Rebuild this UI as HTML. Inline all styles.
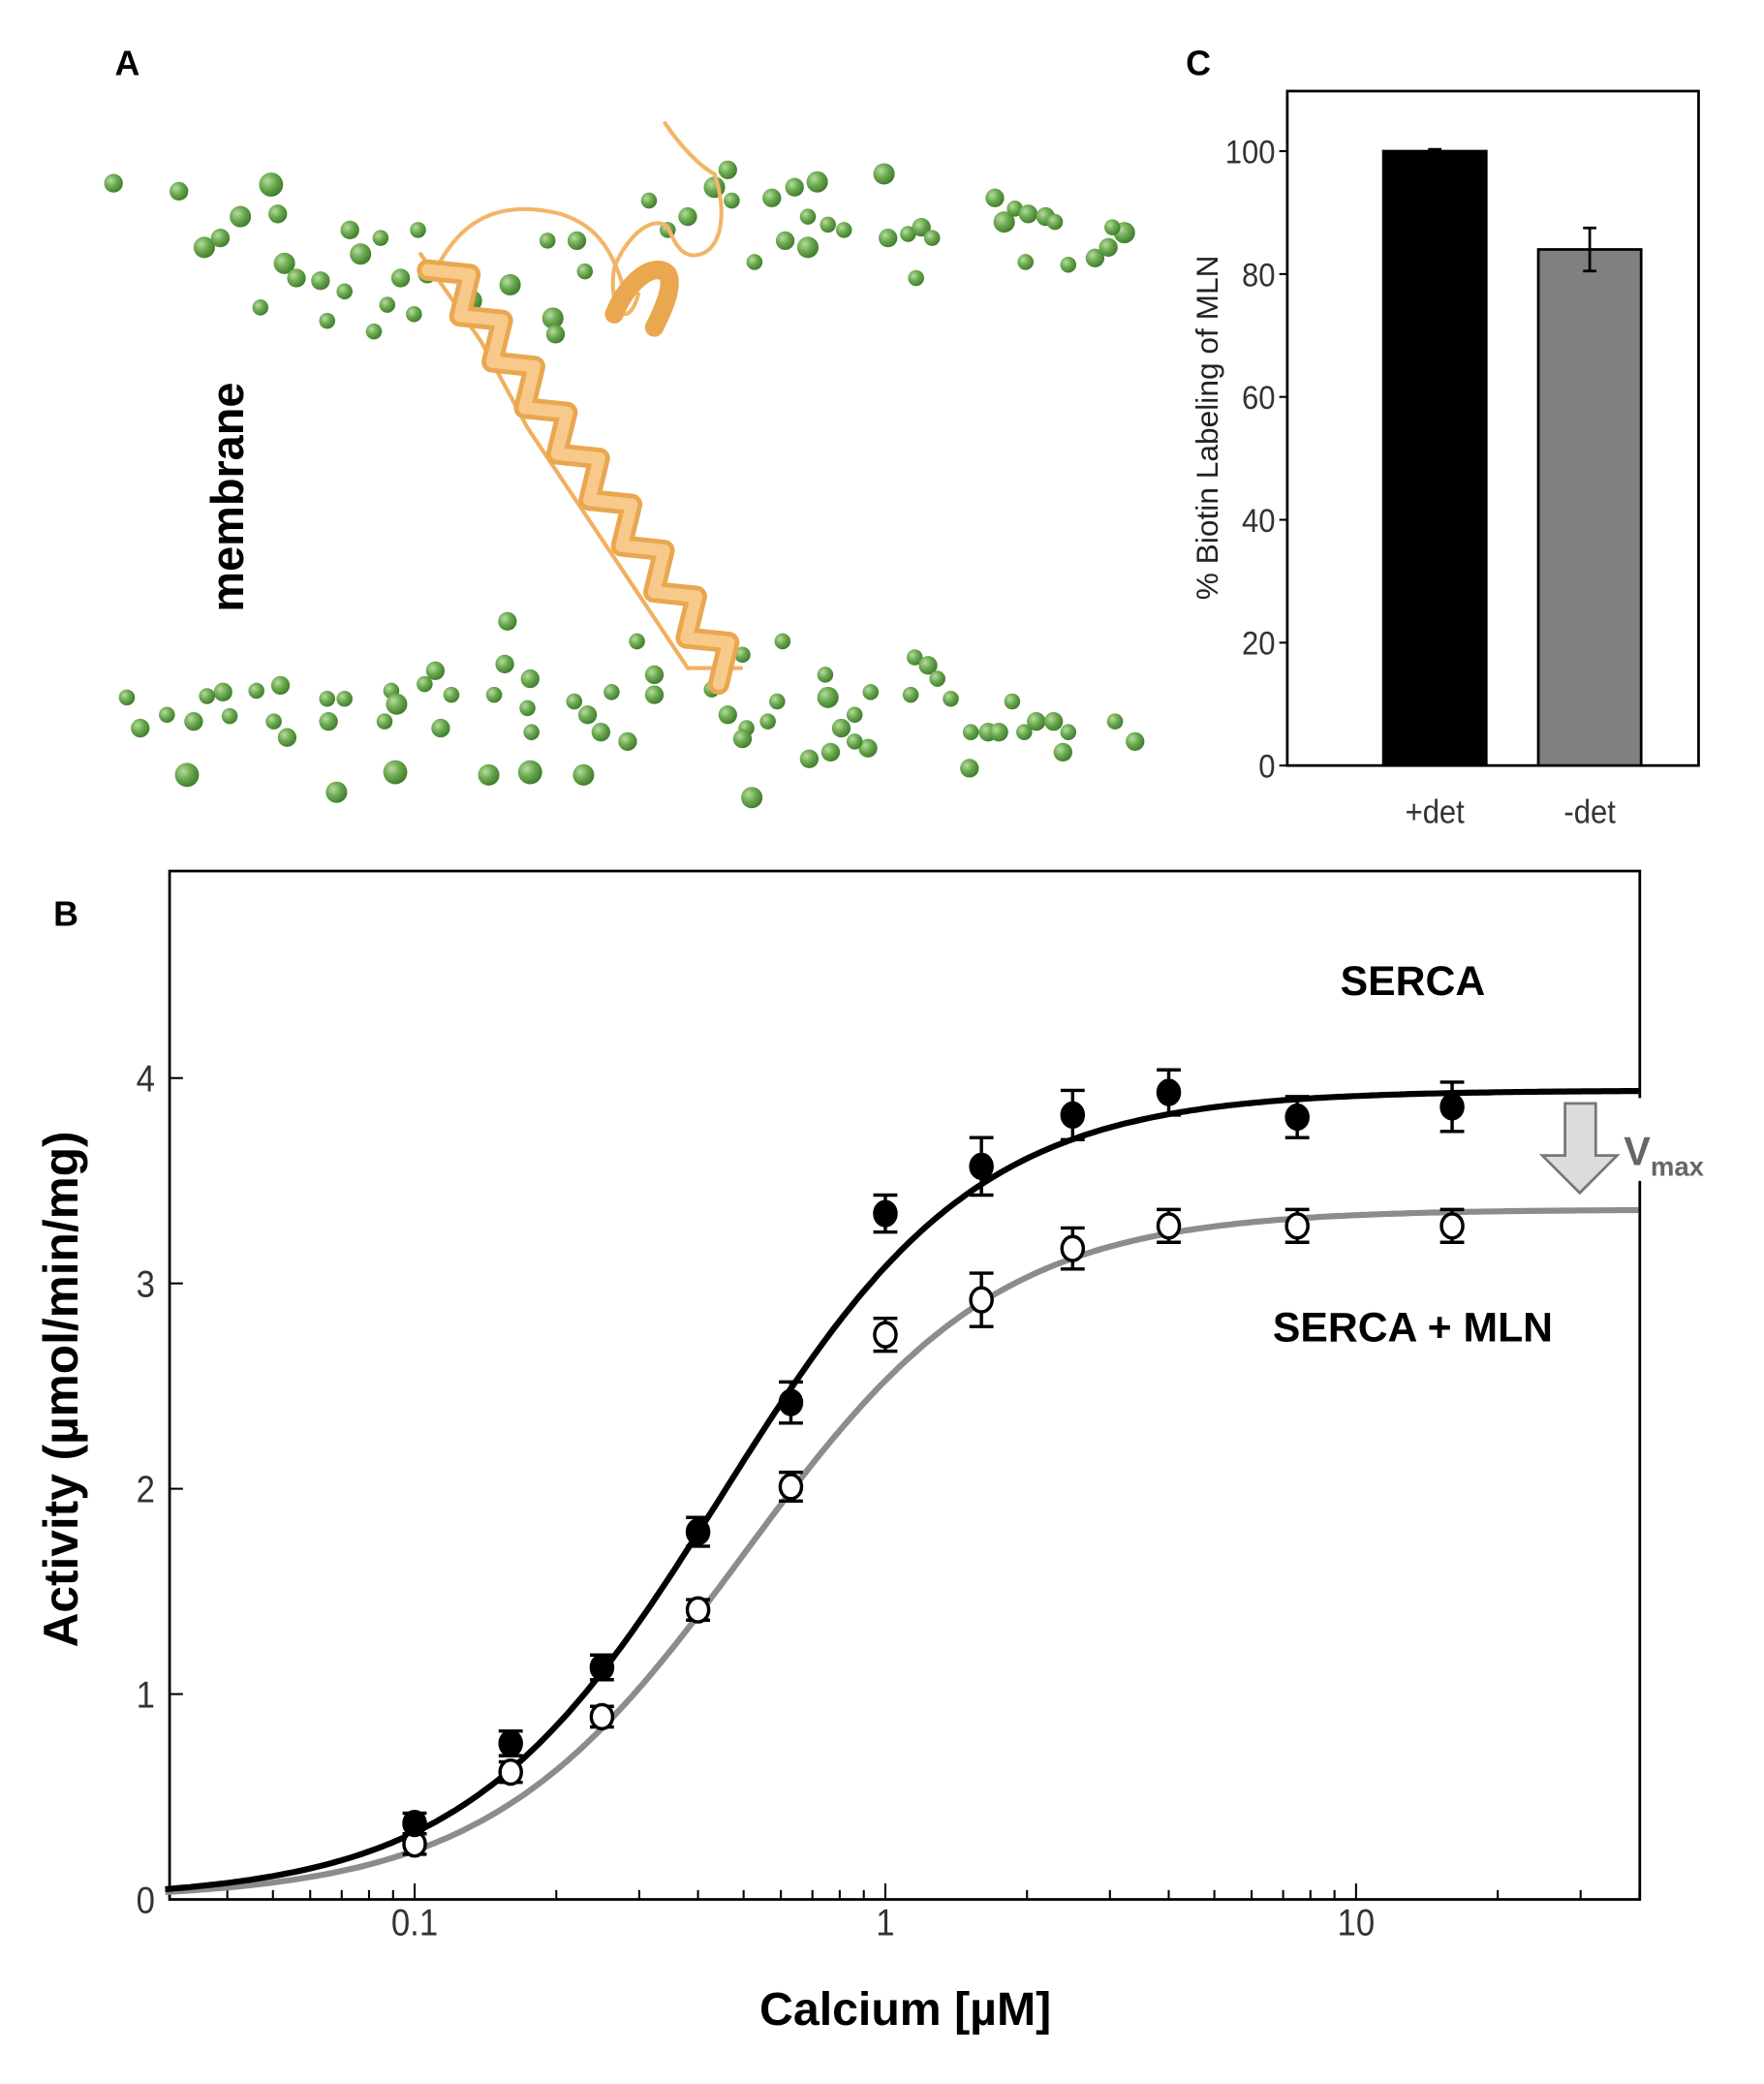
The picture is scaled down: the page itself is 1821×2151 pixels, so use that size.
<!DOCTYPE html>
<html><head><meta charset="utf-8">
<style>
html,body{margin:0;padding:0;background:#fff;}
svg{display:block;}
text{font-family:"Liberation Sans",Arial,sans-serif;}
</style></head>
<body>
<svg id="fig" width="1821" height="2151" viewBox="0 0 1321 1560" xmlns="http://www.w3.org/2000/svg">
<defs>
<radialGradient id="sph" cx="0.35" cy="0.35" r="0.7">
<stop offset="0" stop-color="#b6dca0"/><stop offset="0.5" stop-color="#6aa84f"/><stop offset="1" stop-color="#3d7a2a"/>
</radialGradient>
</defs>
<rect width="1321" height="1560" fill="#fff"/>

<!-- Panel A -->
<g id="panelA">
<text x="86" y="56" font-size="26" font-weight="bold">A</text>
<g id="spheres"></g>
<g fill="none" stroke-linecap="round">
<path d="M498,92 C510,110 525,125 535,130 C545,160 540,185 525,190 C510,195 505,180 500,170 C490,160 470,175 460,200 C455,230 470,250 478,220" stroke="#f2b567" stroke-width="3"/>
<path d="M330,195 C350,160 380,150 420,160 C450,170 460,190 470,225" stroke="#f2b567" stroke-width="3"/>
<path d="M315,190 L360,255 L395,320 L435,380 L475,440 L515,500 L555,500" stroke="#f0b060" stroke-width="3"/>
<path id="helixzig" d="" stroke="#e9a74f" stroke-width="16" stroke-linejoin="round"/>
<path id="helixzig2" d="" stroke="#f7c98a" stroke-width="9" stroke-linejoin="round"/>
<path d="M460,235 C470,210 490,195 500,205 C505,215 495,235 490,245" stroke="#e9a74f" stroke-width="14"/>
</g>
<text transform="translate(182,372) rotate(-90)" text-anchor="middle" font-size="34" font-weight="bold">membrane</text>
</g>

<!-- Panel C -->
<g id="panelC">
<text x="888" y="56" font-size="26" font-weight="bold">C</text>
<rect x="964" y="68" width="308" height="505" fill="none" stroke="#000" stroke-width="2"/>
<g id="cTicks"></g>
<g id="cBars"></g>
<text transform="translate(912,320) rotate(-90)" text-anchor="middle" font-size="23" fill="#222">% Biotin Labeling of MLN</text>
</g>

<!-- Panel B -->
<g id="panelB">
<text x="40" y="693" font-size="26" font-weight="bold">B</text>
<rect x="127" y="652" width="1101" height="770" fill="none" stroke="#000" stroke-width="2"/>
<rect x="1222" y="822" width="12" height="62" fill="#fff"/>
<g id="bTicks"></g>
<g id="bCurves"></g>
<g id="bPoints"></g>
<text x="1058" y="745" text-anchor="middle" font-size="31" font-weight="bold">SERCA</text>
<text x="1058" y="1004" text-anchor="middle" font-size="31" font-weight="bold">SERCA + MLN</text>
<path d="M1172,826 L1195,826 L1195,865 L1211,865 L1183,893 L1155,865 L1172,865 Z" fill="#dcdcdc" stroke="#777" stroke-width="2"/>
<text x="1216" y="872" font-size="30" font-weight="bold" fill="#666">V<tspan font-size="20" dy="8">max</tspan></text>
<text transform="translate(58,1040) rotate(-90)" text-anchor="middle" font-size="36" font-weight="bold">Activity (µmol/min/mg)</text>
<text x="678" y="1516" text-anchor="middle" font-size="35" font-weight="bold">Calcium [µM]</text>
</g>
</svg>
<script>
// ---- Panel C data ----
const cCategories = ["+det", "-det"];
const cValues = [100, 84];
const cErrors = [0.3, 3.5];
const cTickLabels = [0, 20, 40, 60, 80, 100];
const cFills = ["#000", "#808080"];

// ---- Panel B data ----
const bCalcium = [0.1, 0.16, 0.25, 0.4, 0.63, 1.0, 1.6, 2.5, 4.0, 7.5, 16];
const bSerca = [0.37, 0.76, 1.13, 1.79, 2.42, 3.34, 3.57, 3.82, 3.93, 3.81, 3.86];
const bSercaErr = [0.05, 0.06, 0.06, 0.07, 0.1, 0.09, 0.14, 0.12, 0.11, 0.1, 0.12];
const bMln = [0.27, 0.62, 0.89, 1.41, 2.01, 2.75, 2.92, 3.17, 3.28, 3.28, 3.28];
const bMlnErr = [0.05, 0.05, 0.05, 0.05, 0.07, 0.08, 0.13, 0.1, 0.08, 0.08, 0.08];
const bFitSerca = [3.94, 0.45, 1.6]; // Vmax, KCa, Hill n
const bFitMln = [3.36, 0.5, 1.6];
const bYTicks = [0, 1, 2, 3, 4];
const bXTicks = [0.1, 1, 10];
const bXTickLabels = ["0.1", "1", "10"];

const NS = "http://www.w3.org/2000/svg";
function mk(tag, attrs, parent) {
  const e = document.createElementNS(NS, tag);
  for (const k in attrs) e.setAttribute(k, attrs[k]);
  parent.appendChild(e);
  return e;
}
// horizontal squeeze about the label's own anchor x, so the label stays in place but looks condensed
const NARROW = 0.9;
function narrow(x) {
  return `translate(${x},0) scale(${NARROW},1) translate(${-x},0)`;
}

// Panel C axes
const cY = v => 573 - v * 4.6;
const cX = i => 1036 + i * 116;
const cT = document.getElementById('cTicks');
cTickLabels.forEach(v => {
  const t = mk('line', {x1: 958, x2: 964, y1: cY(v), y2: cY(v), stroke: '#000', 'stroke-width': 1.5}, cT);
  
  
  const l = mk('text', {x: 955, y: cY(v) + 9, 'text-anchor': 'end', 'font-size': 25, 'font-weight': 300, fill: '#333', transform: narrow(955)}, cT);
  l.textContent = v;
  
  
});
const cB = document.getElementById('cBars');
cCategories.forEach((c, i) => {
  const x = cX(i), w = 77;
  const r = mk('rect', {x: x, y: cY(cValues[i]), width: w, height: cY(0) - cY(cValues[i]), fill: cFills[i], stroke: '#000', 'stroke-width': 2}, cB);
  
  
  const cx = x + w / 2;
  const e = mk('path', {d: `M${cx},${cY(cValues[i] + cErrors[i])}V${cY(cValues[i] - cErrors[i])}M${cx - 5},${cY(cValues[i] + cErrors[i])}H${cx + 5}M${cx - 5},${cY(cValues[i] - cErrors[i])}H${cx + 5}`, stroke: '#000', 'stroke-width': 2, fill: 'none'}, cB);
  
  
  const l = mk('text', {x: cx, y: 616, 'text-anchor': 'middle', 'font-size': 25, 'font-weight': 300, fill: '#333', transform: narrow(cx)}, cB);
  l.textContent = c;
  
  
});

// Panel B axes
const bX = v => 663 + Math.log10(v) * 352.5;
const bY = v => 1422 - v * 153.75;
const bT = document.getElementById('bTicks');
bYTicks.forEach(v => {
  const t = mk('line', {x1: 127, x2: 137, y1: bY(v), y2: bY(v), stroke: '#000', 'stroke-width': 1.5}, bT);
  
  
  const l = mk('text', {x: 116, y: bY(v) + 10, 'text-anchor': 'end', 'font-size': 28, 'font-weight': 300, fill: '#333', transform: narrow(116)}, bT);
  l.textContent = v;
  
  
});
for (let d = -2; d <= 1; d++) {
  for (let m = 1; m <= 9; m++) {
    const v = m * Math.pow(10, d);
    const x = bX(v);
    if (x < 127 || x > 1228) continue;
    const t = mk('line', {x1: x, x2: x, y1: 1422, y2: m === 1 ? 1410 : 1415, stroke: '#000', 'stroke-width': 1.5}, bT);
    
    
  }
}
bXTicks.forEach((v, i) => {
  const lx = bX(v);
  const l = mk('text', {x: lx, y: 1449, 'text-anchor': 'middle', 'font-size': 28, 'font-weight': 300, fill: '#333', transform: narrow(lx)}, bT);
  l.textContent = bXTickLabels[i];
  
  
});

// fitted curves
const bC = document.getElementById('bCurves');
function curve(p, color, name) {
  let d = '';
  for (let i = 0; i <= 300; i++) {
    const lx = -1.53 + i * (1.6 + 1.53) / 300;
    const x = Math.pow(10, lx);
    const y = p[0] / (1 + Math.pow(p[1] / x, p[2]));
    d += (i ? 'L' : 'M') + bX(x).toFixed(1) + ',' + bY(y).toFixed(1);
  }
  const e = mk('path', {d: d, stroke: color, 'stroke-width': 4.5, fill: 'none'}, bC);
  
  
}
curve(bFitMln, '#8c8c8c', 'fit-curve-serca-mln');
curve(bFitSerca, '#000', 'fit-curve-serca');

// points
const bP = document.getElementById('bPoints');
function series(vals, errs, fill, name) {
  vals.forEach((v, i) => {
    const x = bX(bCalcium[i]);
    const e = mk('path', {d: `M${x},${bY(v + errs[i])}V${bY(v - errs[i])}M${x - 9},${bY(v + errs[i])}H${x + 9}M${x - 9},${bY(v - errs[i])}H${x + 9}`, stroke: '#000', 'stroke-width': 2.5, fill: 'none'}, bP);
    
    
    const c = mk('ellipse', {cx: x, cy: bY(v), rx: 8, ry: 9, fill: fill, stroke: '#000', 'stroke-width': 2.5}, bP);
    
    
  });
}
series(bMln, bMlnErr, '#fff', 'serca-mln');
series(bSerca, bSercaErr, '#000', 'serca');

// Panel A decorative spheres
const sph = [[85,137,7],[134,143,7],[203,138,9],[208,160,7],[180,162,8],[153,185,8],[165,178,7],[213,197,8],[222,208,7],[240,210,7],[262,172,7],[270,190,8],[258,218,6],[285,178,6],[300,208,7],[320,205,7],[290,228,6],[310,235,6],[245,240,6],[280,248,6],[195,230,6],[313,172,6],[353,225,8],[382,213,8],[414,238,8],[416,250,7],[410,180,6],[432,180,7],[438,203,6],[486,150,6],[500,172,6],[515,162,7],[535,140,8],[545,127,7],[548,150,6],[578,148,7],[595,140,7],[612,136,8],[605,162,6],[620,168,6],[605,185,8],[632,172,6],[662,130,8],[665,178,7],[680,175,6],[690,170,7],[698,178,6],[686,208,6],[745,148,7],[752,166,8],[760,156,6],[770,160,7],[783,162,7],[790,166,6],[800,198,6],[820,193,7],[830,185,7],[842,174,8],[768,196,6],[833,170,6],[565,196,6],[588,180,7],[477,480,6],[490,505,7],[380,465,7],[378,497,7],[370,520,6],[326,502,7],[318,512,6],[293,517,6],[297,527,8],[288,540,6],[258,523,6],[245,523,6],[246,540,7],[210,513,7],[192,517,6],[167,518,7],[155,521,6],[215,552,7],[105,545,7],[95,522,6],[125,535,6],[145,540,7],[172,536,6],[205,540,6],[330,545,7],[338,520,6],[395,530,6],[397,508,7],[398,548,6],[430,525,6],[440,535,7],[458,518,6],[490,520,7],[450,548,7],[470,555,7],[533,516,6],[545,535,7],[559,545,6],[575,540,6],[556,553,7],[582,525,6],[618,505,6],[620,522,8],[630,545,7],[640,535,6],[652,518,6],[606,568,7],[622,563,7],[650,560,7],[685,492,6],[695,498,7],[702,508,6],[712,523,6],[727,548,6],[726,575,7],[758,525,6],[740,548,7],[748,548,7],[767,548,6],[776,540,7],[789,540,7],[800,548,6],[796,563,7],[835,540,6],[850,555,7],[140,580,9],[252,593,8],[296,578,9],[366,580,8],[397,578,9],[437,580,8],[563,597,8],[682,520,6],[640,555,6],[586,480,6],[556,490,6]];
const S = document.getElementById('spheres');
sph.forEach(s => {
  const c = mk('circle', {cx: s[0], cy: s[1], r: s[2], fill: 'url(#sph)'}, S);
  
  
});
// helix zigzag
let hz = '';
for (let i = 0; i <= 18; i++) {
  const t = i / 18;
  const x = 330 + t * (548 - 330), y = 195 + t * (505 - 195);
  const off = (i % 2 ? 1 : -1) * 12;
  hz += (i ? 'L' : 'M') + (x + off * 0.82).toFixed(1) + ',' + (y - off * 0.58).toFixed(1);
}
document.getElementById('helixzig').setAttribute('d', hz);
document.getElementById('helixzig2').setAttribute('d', hz);
</script>
</body></html>
